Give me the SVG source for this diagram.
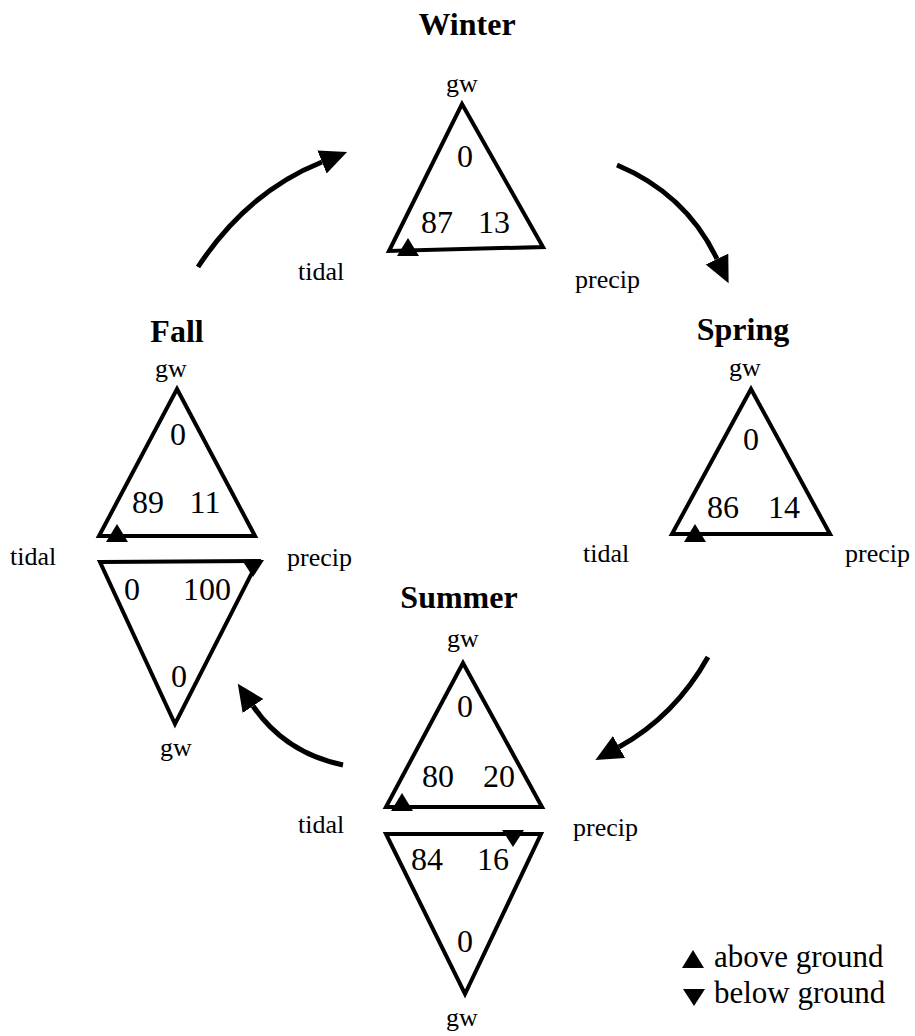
<svg xmlns="http://www.w3.org/2000/svg" width="915" height="1036" viewBox="0 0 915 1036">
<style>
.tri{fill:none;stroke:#000;stroke-width:4;stroke-linejoin:miter}
.lbl{font-family:"Liberation Serif","Times New Roman",serif;font-size:26px;fill:#000}
.num{font-family:"Liberation Serif","Times New Roman",serif;font-size:32px;fill:#000;text-anchor:middle}
.ttl{font-family:"Liberation Serif","Times New Roman",serif;font-size:32px;font-weight:bold;fill:#000;text-anchor:middle}
.leg{font-family:"Liberation Serif","Times New Roman",serif;font-size:31px;fill:#000}
.mid{text-anchor:middle}
.conn{fill:none;stroke:#000;stroke-width:5;stroke-linecap:butt}
</style>
<defs>
<marker id="ah" markerUnits="userSpaceOnUse" markerWidth="30" markerHeight="28" refX="0" refY="12.5" orient="auto">
<path d="M0,0 L27,12.5 L0,25 z" fill="#000"/>
</marker>
<path id="up" d="M0,0 L11,18 L-11,18 z" fill="#000"/>
<path id="dn" d="M-11,0 L11,0 L0,17 z" fill="#000"/>
</defs>
<rect width="915" height="1036" fill="#fff"/>

<g id="winter">
<text class="ttl" x="467" y="35">Winter</text>
<polygon class="tri" points="462,104 543,247 389,251"/>
<use href="#up" x="408" y="238"/>
<text class="lbl mid" x="462" y="92">gw</text>
<text class="num" x="465" y="167">0</text>
<text class="num" x="437" y="233">87</text>
<text class="num" x="494" y="233">13</text>
<text class="lbl" x="298" y="280">tidal</text>
<text class="lbl" x="575" y="288">precip</text>
</g>

<g id="spring">
<text class="ttl" x="743" y="340">Spring</text>
<polygon class="tri" points="751,389 830,534 672,534"/>
<use href="#up" x="695" y="524"/>
<text class="lbl mid" x="745" y="376">gw</text>
<text class="num" x="751" y="450">0</text>
<text class="num" x="723" y="518">86</text>
<text class="num" x="784" y="518">14</text>
<text class="lbl" x="583" y="562">tidal</text>
<text class="lbl" x="845" y="562">precip</text>
</g>

<g id="fall">
<text class="ttl" x="177" y="342">Fall</text>
<polygon class="tri" points="177,389 255,536 99,536"/>
<use href="#up" x="117" y="524"/>
<text class="lbl mid" x="171" y="377">gw</text>
<text class="num" x="178" y="445">0</text>
<text class="num" x="148" y="513">89</text>
<text class="num" x="205" y="513">11</text>
<polygon class="tri" points="100,562 258,561 175,724"/>
<use href="#dn" x="253" y="560"/>
<text class="num" x="132" y="600">0</text>
<text class="num" x="207" y="600">100</text>
<text class="num" x="179" y="687">0</text>
<text class="lbl mid" x="176" y="756">gw</text>
<text class="lbl" x="10" y="565">tidal</text>
<text class="lbl" x="287" y="566">precip</text>
</g>

<g id="summer">
<text class="ttl" x="459" y="608">Summer</text>
<polygon class="tri" points="463,663 542,807 386,807"/>
<use href="#up" x="402" y="793"/>
<text class="lbl mid" x="463" y="647">gw</text>
<text class="num" x="465" y="717">0</text>
<text class="num" x="438" y="787">80</text>
<text class="num" x="499" y="787">20</text>
<polygon class="tri" points="386,834 541,834 465,994"/>
<use href="#dn" x="513" y="830"/>
<text class="num" x="427" y="870">84</text>
<text class="num" x="493" y="870">16</text>
<text class="num" x="465" y="952">0</text>
<text class="lbl mid" x="462" y="1026">gw</text>
<text class="lbl" x="298" y="833">tidal</text>
<text class="lbl" x="573" y="836">precip</text>
</g>

<g id="legend">
<use href="#up" x="693" y="950"/>
<text class="leg" x="714" y="967">above ground</text>
<use href="#dn" x="694" y="989"/>
<text class="leg" x="714" y="1003">below ground</text>
</g>

<g id="connectors">
<path class="conn" d="M198,267 Q247,192 322,162" marker-end="url(#ah)"/>
<path class="conn" d="M617,165 Q686,194 717,259" marker-end="url(#ah)"/>
<path class="conn" d="M708,657 Q675,716 619,747" marker-end="url(#ah)"/>
<path class="conn" d="M343,765 Q285,753 253,706" marker-end="url(#ah)"/>
</g>
</svg>
